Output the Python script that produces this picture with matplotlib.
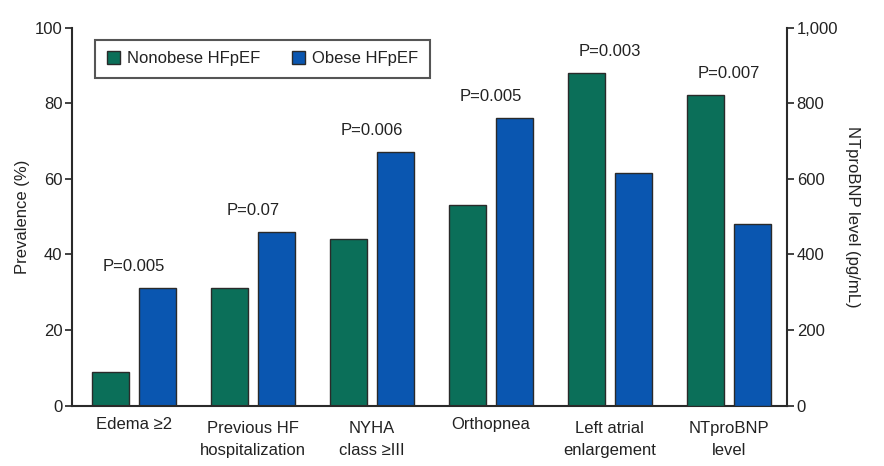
import matplotlib
matplotlib.use("Agg")
import matplotlib.pyplot as plt
import matplotlib.transforms as mtransforms
import numpy as np

plt.rcParams['font.family'] = ['Liberation Sans', 'DejaVu Sans']

categories = ["Edema \u22652", "Previous HF\nhospitalization", "NYHA\nclass \u2265III",
              "Orthopnea", "Left atrial\nenlargement", "NTproBNP\nlevel"]
nonobese_pct = [9, 31, 44, 53, 88]      # prevalence (%)
obese_pct = [31, 46, 67, 76, 61.5]
nonobese_bnp = 822                      # pg/mL
obese_bnp = 480
p_values = ["P=0.005", "P=0.07", "P=0.006", "P=0.005", "P=0.003", "P=0.007"]

green = "#0b6f59"
blue = "#0a56b0"
edge = "#2a2a2a"
txt = "#222222"

fig = plt.figure(figsize=(8.84, 4.66), dpi=100)
ax = fig.add_axes([72/884, 1-405.7/466, (787-72)/884, (405.7-27.5)/466])
ax2 = ax.twinx()

x = np.arange(len(categories))
w = 0.31
off = 0.197

n = len(nonobese_pct)
ax.bar(x[:n]-off, nonobese_pct, w, color=green, edgecolor=edge, linewidth=1, label="Nonobese HFpEF")
ax.bar(x[:n]+off, obese_pct, w, color=blue, edgecolor=edge, linewidth=1, label="Obese HFpEF")
ax2.bar([x[n]-off], [nonobese_bnp], w, color=green, edgecolor=edge, linewidth=1)
ax2.bar([x[n]+off], [obese_bnp], w, color=blue, edgecolor=edge, linewidth=1)

tops = [max(a, b) for a, b in zip(nonobese_pct, obese_pct)] + [max(nonobese_bnp, obese_bnp)/10]
for xi, t, p in zip(x, tops, p_values):
    ax.text(xi, t+5.7, p, ha='center', va='center', fontsize=12, color=txt)

ax.set_xlim(-0.52, 5.49)
ax.set_ylim(0, 100)
ax2.set_ylim(0, 1000)
ax.set_yticks([0, 20, 40, 60, 80, 100])
ax2.set_yticks([0, 200, 400, 600, 800, 1000])
ax2.set_yticklabels(["0", "200", "400", "600", "800", "1,000"])
ax.set_xticks(x)
ax.set_xticklabels([])

# category labels (drawn as text to control vertical offsets)
base = ax.get_xaxis_transform()
for xi, lab in zip(x, categories):
    dy = -15/100 if "\n" in lab else -11/100
    tr = base + mtransforms.ScaledTranslation(0, dy, fig.dpi_scale_trans)
    ax.text(xi, 0, lab, transform=tr, ha='center', va='top', fontsize=12,
            color=txt, linespacing=1.6)

for a in (ax, ax2):
    a.spines['top'].set_visible(False)
    a.tick_params(axis='y', labelsize=12, colors=txt, length=5, width=1.2, pad=2)
ax.spines['right'].set_visible(False)
ax2.spines['left'].set_visible(False)
ax2.spines['bottom'].set_visible(False)
for s in ('left', 'bottom'):
    ax.spines[s].set_linewidth(1.5)
    ax.spines[s].set_color(edge)
ax2.spines['right'].set_linewidth(1.5)
ax2.spines['right'].set_color(edge)
ax.tick_params(axis='x', length=0)

ax.set_ylabel("Prevalence (%)", fontsize=12, color=txt, labelpad=3)
ax2.set_ylabel("NTproBNP level (pg/mL)", fontsize=12, color=txt, rotation=270, labelpad=16)

leg = ax.legend(loc='upper left', bbox_to_anchor=(0.021, 0.99), ncol=2, fontsize=12,
                frameon=True, fancybox=False, edgecolor=edge, handlelength=0.8,
                handleheight=0.8, handletextpad=0.4, columnspacing=1.9, borderpad=0.7)
leg.get_frame().set_linewidth(1.5)
for t in leg.get_texts():
    t.set_color(txt)

fig.savefig("out.png", dpi=100)
